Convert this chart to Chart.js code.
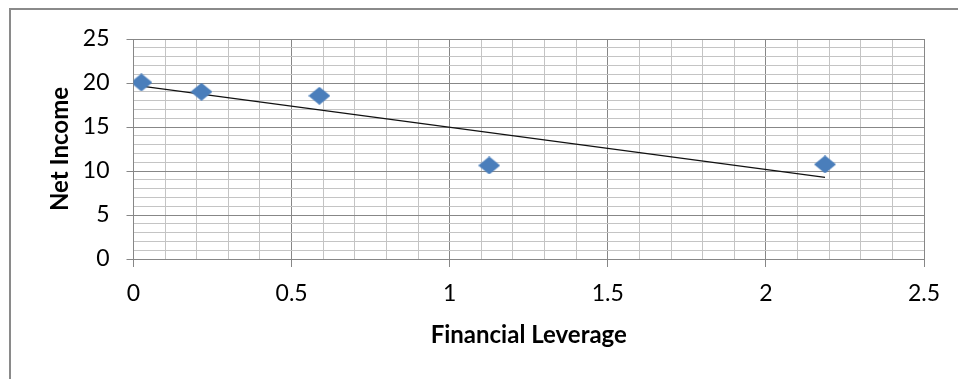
<!DOCTYPE html>
<html lang="en">
<head>
  <meta charset="UTF-8" />
  <title>Net Income vs Financial Leverage</title>
  <script src="https://cdn.jsdelivr.net/npm/chart.js"></script>
  <style>
    body {
      margin: 0;
      background: #fff;
    }
    #chart {
      display: block;
    }
  </style>
</head>
<body>

<canvas id="chart" width="958" height="379"></canvas>

<script>
const leverage = [0.025, 0.215, 0.588, 1.125, 2.187];
const netIncome = [20.06, 19.0, 18.55, 10.63, 10.75];
const xTicks = [0, 0.5, 1, 1.5, 2, 2.5];
const yTicks = [0, 5, 10, 15, 20, 25];

const FONT = "Lato, 'Open Sans', sans-serif";
const MAJOR = "#878787";
const MINOR = "#c4c4c4";

// least squares line through the points, drawn from first to last x
function trendline(xs, ys) {
  const n = xs.length;
  const mx = xs.reduce((a, b) => a + b, 0) / n;
  const my = ys.reduce((a, b) => a + b, 0) / n;
  let sxy = 0, sxx = 0;
  for (let i = 0; i < n; i++) {
    sxy += (xs[i] - mx) * (ys[i] - my);
    sxx += (xs[i] - mx) * (xs[i] - mx);
  }
  const slope = sxy / sxx;
  const icpt = my - slope * mx;
  const x0 = Math.min(...xs), x1 = Math.max(...xs);
  return [{ x: x0, y: icpt + slope * x0 }, { x: x1, y: icpt + slope * x1 }];
}

// diamond marker, slightly wider than tall
function diamond(w, h, color) {
  const c = document.createElement("canvas");
  c.width = w;
  c.height = h;
  const g = c.getContext("2d");
  g.beginPath();
  g.moveTo(w / 2, 0);
  g.lineTo(w, h / 2);
  g.lineTo(w / 2, h);
  g.lineTo(0, h / 2);
  g.closePath();
  g.fillStyle = color;
  g.fill();
  return c;
}

function isOn(v, list) {
  return list.some(t => Math.abs(t - v) < 1e-6);
}

const frame = {
  id: "frame",
  beforeDraw(chart) {
    const c = chart.ctx;
    c.save();
    c.strokeStyle = "#8a8a8a";
    c.lineWidth = 2;
    c.strokeRect(10, 9, 1200, 600);
    c.restore();
  }
};

const points = leverage.map((x, i) => ({ x: x, y: netIncome[i] }));

new Chart(document.getElementById("chart"), {
  type: "scatter",
  data: {
    datasets: [
      {
        data: points,
        pointStyle: diamond(22, 18, "#4a7ebb"),
        pointRadius: 9,
        pointHoverRadius: 9,
        order: 1
      },
      {
        type: "line",
        data: trendline(leverage, netIncome),
        borderColor: "#111",
        borderWidth: 1.2,
        pointRadius: 0,
        fill: false,
        order: 2
      }
    ]
  },
  options: {
    responsive: false,
    animation: false,
    events: [],
    layout: { padding: { left: 0, top: 39, right: 34, bottom: 0 } },
    plugins: {
      legend: { display: false },
      tooltip: { enabled: false }
    },
    scales: {
      x: {
        type: "linear",
        min: 0,
        max: 2.5,
        afterFit(scale) { scale.height = 120; },
        border: { color: MAJOR, width: 1 },
        grid: {
          color: ctx => isOn(ctx.tick.value, xTicks) ? MAJOR : MINOR,
          tickColor: ctx => isOn(ctx.tick.value, xTicks) ? MAJOR : "rgba(0,0,0,0)",
          tickLength: 8
        },
        ticks: {
          stepSize: 0.1,
          autoSkip: false,
          maxRotation: 0,
          padding: 13,
          color: "#000",
          font: { family: FONT, size: 23 },
          callback: v => isOn(v, xTicks) ? String(Math.round(v * 10) / 10) : ""
        },
        title: {
          display: true,
          text: "Financial Leverage",
          color: "#000",
          font: { family: FONT, size: 24, weight: "bold" },
          padding: { top: 0, bottom: 29 }
        }
      },
      y: {
        min: 0,
        max: 25,
        afterFit(scale) { scale.width = 133.5; },
        border: { color: MAJOR, width: 1 },
        grid: {
          color: ctx => isOn(ctx.tick.value, yTicks) ? MAJOR : MINOR,
          tickColor: ctx => isOn(ctx.tick.value, yTicks) ? MAJOR : "rgba(0,0,0,0)",
          tickLength: 7
        },
        ticks: {
          stepSize: 1,
          autoSkip: false,
          padding: 17,
          color: "#000",
          font: { family: FONT, size: 23 },
          callback: v => isOn(v, yTicks) ? String(v) : ""
        },
        title: {
          display: true,
          text: "Net Income",
          color: "#000",
          font: { family: FONT, size: 24, weight: "bold" },
          padding: { top: 46, bottom: 0 }
        }
      }
    }
  },
  plugins: [frame]
});
</script>

</body>
</html>
